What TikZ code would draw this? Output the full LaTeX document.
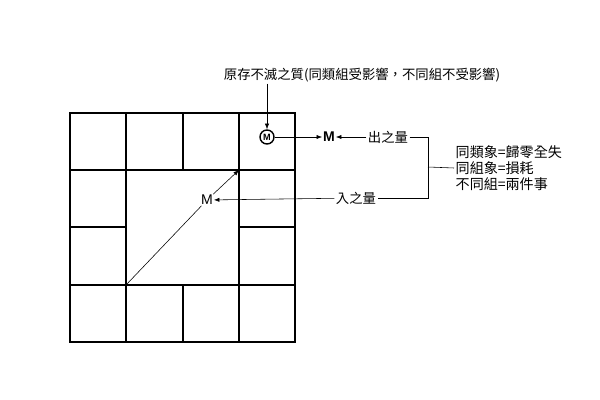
\documentclass[tikz,border=0pt]{standalone}
\usepackage{fontspec}
\setmainfont{Liberation Sans}
\newfontfamily\cjk{Noto Sans CJK TC}
\usetikzlibrary{arrows.meta}
\begin{document}
\begin{tikzpicture}[x=0.025cm, y=-0.025cm, >={Latex[length=4pt,width=3pt]}, thin,
    word node/.style={font=\cjk\fontsize{9.5}{12}\selectfont, inner sep=1pt},
    m node/.style={font=\fontsize{10}{12}\selectfont, inner sep=0.5pt},
    ring node/.style={circle, draw, line width=1pt, inner sep=0pt, minimum size=0.35cm, font=\bfseries\fontsize{6.5}{7}\selectfont}]
\useasboundingbox (0,0) rectangle (600,400);

% the board
\draw[line width=1.5pt] (70,113) rectangle (295,342);
\draw[line width=0.8pt] (70,170) -- (295,170) (70,285) -- (295,285)
    (126,113) -- (126,342) (239,113) -- (239,342)
    (183,113) -- (183,170) (183,285) -- (183,342)
    (70,227) -- (126,227) (239,227) -- (295,227);
\coordinate (sw) at (126,285);
\coordinate (ne) at (239,170);

\node[word node] at (362, 75) (top) {原存不滅之質(同類組受影響，不同組不受影響)};
\node[ring node] at (267, 137) (m1) {M};
\node[m node, font=\bfseries\fontsize{10}{12}\selectfont] at (329, 137) (m2) {M};
\node[word node] at (388, 137) (out) {出之量};
\node[m node] at (207, 200) (m3) {M};
\node[word node] at (356, 198) (in) {入之量};
\coordinate (bt) at (428, 137);
\coordinate (bb) at (428, 198);
\coordinate (bm) at (428, 167);
\node[word node, align=left, anchor=west, font=\cjk\fontsize{10}{11.6}\selectfont] at (454, 168) (rule) {同類象=歸零全失\\同組象=損耗\\不同組=兩件事};

\draw[->] (top.south -| m1) -- (m1);
\draw[->] (m1) -- (m2);
\draw[->] (out) -- (m2);
\draw (out) -- (bt) -- (bb) -- (in);
\draw (bm) -- (rule.west);
\draw[->] (in) -- (m3);
\draw (sw) -- (m3);
\draw[->] (m3) -- (ne);
\end{tikzpicture}
\end{document}
